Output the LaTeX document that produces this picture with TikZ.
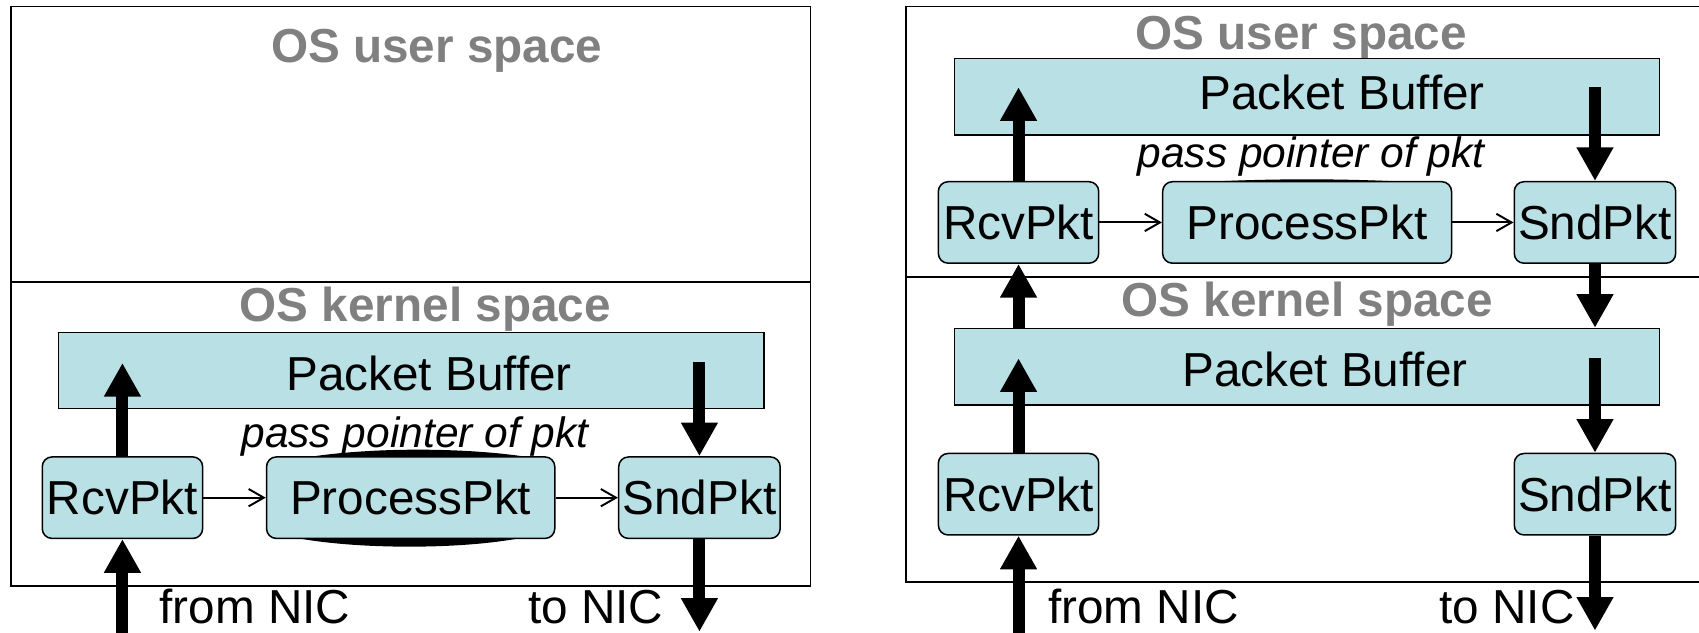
\documentclass[tikz,border=0pt]{standalone}
\usepackage{fontspec}
\setmainfont{Liberation Sans}
\usetikzlibrary{arrows.meta}
\definecolor{bufcyan}{RGB}{185,224,228}
\definecolor{headgray}{RGB}{128,128,128}

\begin{document}
\begin{tikzpicture}[x=0.5pt, y=-0.5pt,
  panel/.style={draw=black, line width=0.9pt},
  bufbox/.style={draw=black, line width=0.7pt, fill=bufcyan, rectangle, inner sep=0pt,
    minimum height=35.2pt},
  pktbox/.style={draw=black, line width=0.7pt, fill=bufcyan, rectangle, rounded corners=4.5pt,
    inner sep=0pt, minimum height=37.6pt, font=\fontsize{22pt}{26pt}\selectfont},
  heading/.style={anchor=base, text=headgray, inner sep=0pt,
    font=\fontsize{22pt}{26pt}\selectfont\bfseries},
  plain/.style={anchor=base, inner sep=0pt, font=\fontsize{22pt}{26pt}\selectfont},
  note/.style={anchor=base, inner sep=0pt, font=\fontsize{19.6pt}{24pt}\selectfont\itshape},
  bigarrow/.style={line width=5.5pt, -{Triangle[length=15.5pt,width=16pt]}},
  thinarrow/.style={line width=0.9pt, -{Straight Barb[length=7pt,width=8pt]}},
]
\clip (0,0) rectangle (1568,584);

% ---------------- left: packet handling inside the kernel ----------------
\draw[panel] (10,6) rectangle (748,541);
\draw[panel] (10,260) -- (748,260);

\node[heading] (userL) at (403,58) {OS user space};
\node[heading] (kernL) at (392.5,297) {OS kernel space};

\node[bufbox, minimum width=325.5pt] (bufL) at (379.5,342) {};
\node[plain] (bufLtxt) at (396,360) {Packet Buffer};

% dark smudges along the top and bottom edge of ProcessPkt
\fill (262,494) .. controls (320,508) and (436,508) .. (492,494) -- cycle;
\fill (272,424) .. controls (335,412) and (437,412) .. (500,424) -- cycle;

\node[pktbox, minimum width=74pt]   (rcvL)  at (113,459.3)   {RcvPkt};
\node[pktbox, minimum width=133pt]  (procL) at (379,459.3)   {ProcessPkt};
\node[pktbox, minimum width=74.5pt] (sndL)  at (645.5,459.3) {SndPkt};

\node[note] (noteL) at (383,413) {pass pointer of pkt};

\coordinate (rcvLin)  at (113,335);
\coordinate (sndLout) at (645.5,334);
\coordinate (nicLin)  at (113,600);
\coordinate (nicLout) at (645.5,583);

\draw[bigarrow] (rcvL.north) -- (rcvLin);
\draw[bigarrow] (sndLout) -- (sndL.north);
\draw[bigarrow] (nicLin) -- (rcvL.south);
\draw[bigarrow] (sndL.south) -- (nicLout);

\draw[thinarrow] (rcvL.east) -- (procL.west);
\draw[thinarrow] (procL.east) -- (sndL.west);

\node[plain, anchor=base west] (fromL) at (147,575) {from NIC};
\node[plain, anchor=base west] (toL)   at (487,575) {to NIC};

% ---------------- right: packet handling in user space ----------------
\draw[panel] (836.5,6) rectangle (1600,537);
\draw[panel] (836.5,256) -- (1600,256);

\node[heading] (userR) at (1201,46) {OS user space};
\node[heading] (kernR) at (1206.5,292) {OS kernel space};

\node[bufbox, minimum width=325.25pt] (bufU) at (1206.25,89.2) {};
\node[plain] (bufUtxt) at (1238.5,101.5) {Packet Buffer};
\node[bufbox, minimum width=325.25pt] (bufK) at (1206.25,338.4) {};
\node[plain] (bufKtxt) at (1222.7,357) {Packet Buffer};

\fill (1086,170) .. controls (1150,164) and (1262,164) .. (1326,170) -- cycle;

\node[pktbox, minimum width=74pt]    (rcvU)  at (940,205.3)    {RcvPkt};
\node[pktbox, minimum width=133.3pt] (procU) at (1206.3,205.3) {ProcessPkt};
\node[pktbox, minimum width=74.5pt]  (sndU)  at (1472,205.3)   {SndPkt};

\node[note] (noteR) at (1210,155) {pass pointer of pkt};

\node[pktbox, minimum width=74pt]   (rcvK) at (940,456.1)  {RcvPkt};
\node[pktbox, minimum width=74.5pt] (sndK) at (1472,456.1) {SndPkt};

\coordinate (rcvUin)  at (940,80.5);
\coordinate (sndUout) at (1472,80.5);
\coordinate (rcvKin)  at (940,330.7);
\coordinate (sndKout) at (1472,330.7);
\coordinate (nicRin)  at (940,600);
\coordinate (nicRout) at (1472,582);

\draw[bigarrow] (rcvU.north) -- (rcvUin);
\draw[bigarrow] (sndUout) -- (sndU.north);
\draw[bigarrow] (rcvU |- bufK.north) -- (rcvU.south);
\draw[bigarrow] (sndU.south) -- (sndU |- bufK.north);
\draw[bigarrow] (rcvK.north) -- (rcvKin);
\draw[bigarrow] (sndKout) -- (sndK.north);
\draw[bigarrow] (nicRin) -- (rcvK.south);
\draw[bigarrow] (sndK.south) -- (nicRout);

\draw[thinarrow] (rcvU.east) -- (procU.west);
\draw[thinarrow] (procU.east) -- (sndU.west);

\node[plain, anchor=base west] (fromR) at (967,575)  {from NIC};
\node[plain, anchor=base west] (toR)   at (1328,575) {to NIC};
\end{tikzpicture}
\end{document}
